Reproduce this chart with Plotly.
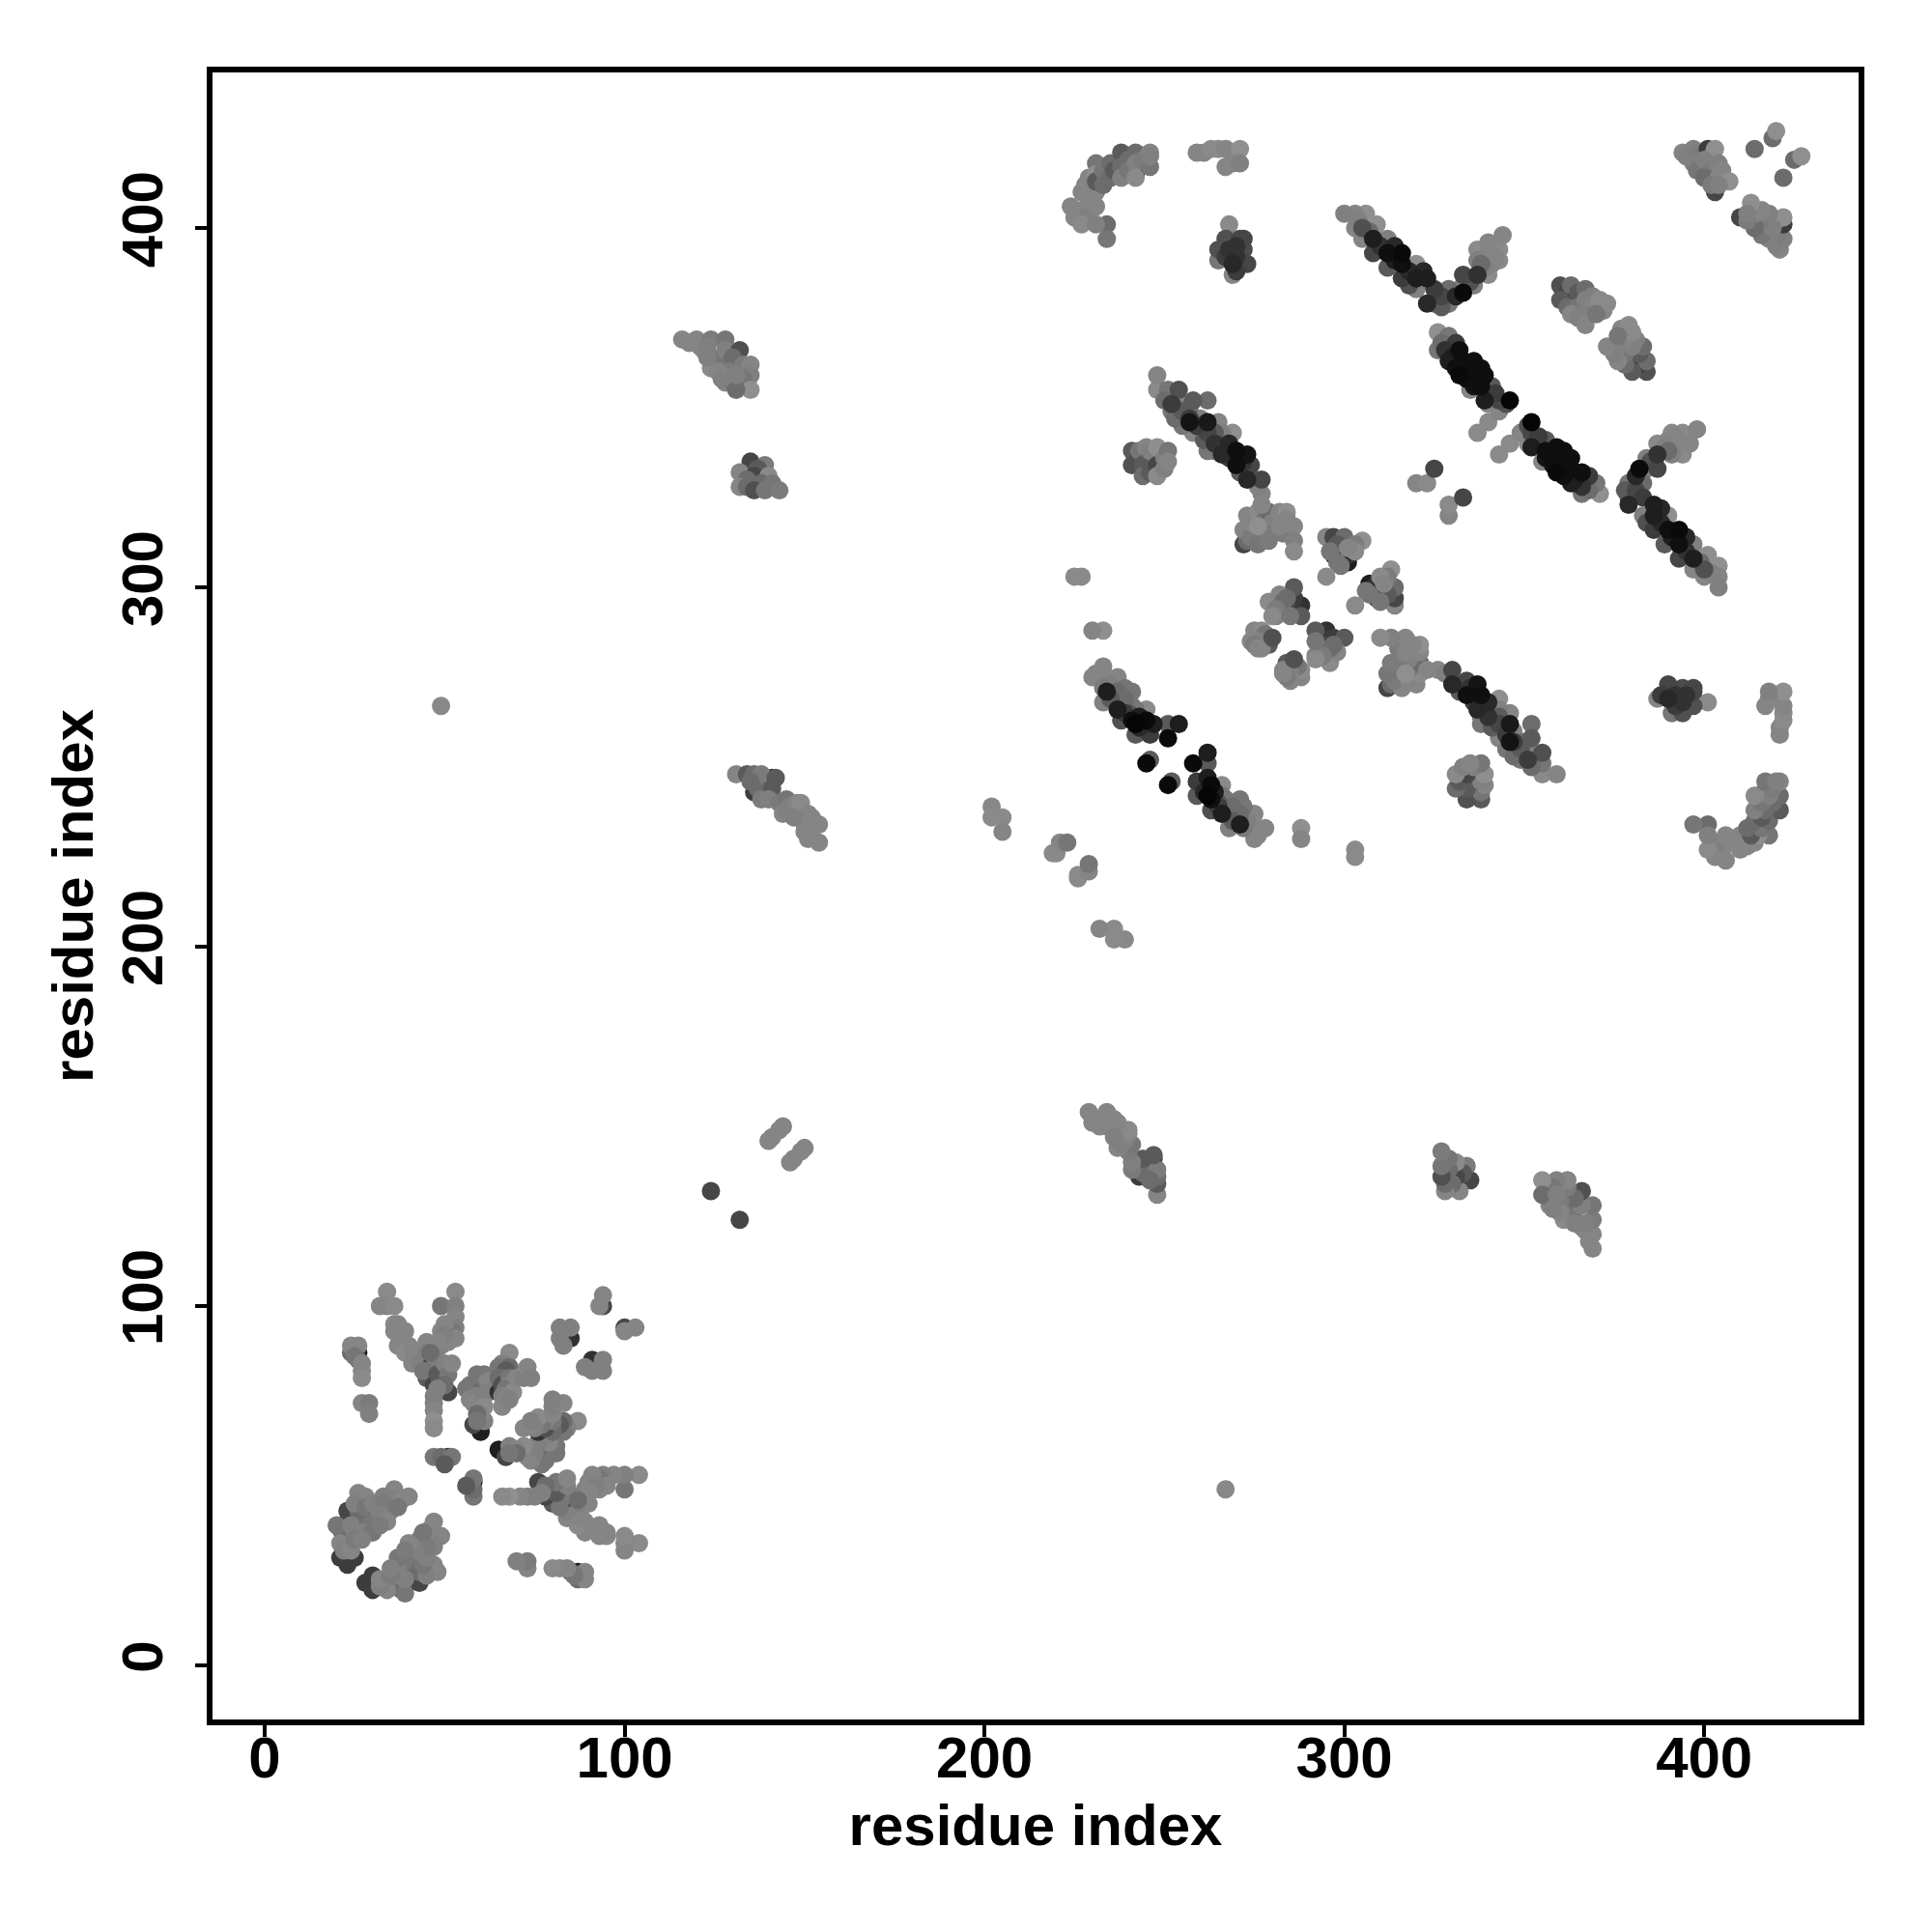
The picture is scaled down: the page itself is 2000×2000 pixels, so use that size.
import plotly.graph_objects as go

# contacts as (residue i, residue j, grey level); the map is symmetric, so each is drawn twice
helix_bundle_a = [(26,87,30),(24,87,100),(24,89,125),(26,89,125),(26,85,100),(25,86,110),(27,84,125),(27,82,125),(27,80,130),
    (27,73,125),(29,73,115),(29,70,120),(34,104,130),(32,100,125),(34,100,125),(36,100,130),(36,95,130),(37,95,125),(36,93,125),
    (39,93,125),(38,91,125),(37,89,125),(40,89,125),(39,87,130),(41,88,125),(43,87,125),(41,84,125),(43,84,120),(45,90,125),(45,87,120),
    (47,82,60),(46,83,60),(45,80,90),(44,82,110),(48,84,110),(47,78,70),(51,76,70),(49,79,60),(48,81,90),(47,86,115),(49,89,120),(50,84,120),(51,81,110),
    (50,78,100),(48,77,120),(52,84,125),(47,75,120),(47,73,120),(47,71,125),(47,68,135),(47,66,130),(49,100,110),(53,104,130),(53,100,120),(53,97,125),
    (53,94,120),(52,93,110),(53,91,125),(51,90,125),(49,93,125),(50,95,125),(50,92,120),(48,90,125),(46,87,100)]
helix_bundle_b = [(58,78,70),(60,65,30),(58,67,70),(59,81,110),(61,81,110),(56,77,110),(57,78,110),(61,78,110),(60,79,110),(60,76,100),
    (57,74,125),(59,75,120),(58,73,125),(61,75,120),(62,79,125),(62,76,120),(61,68,120),(61,72,130),(60,70,125),(59,70,100),(59,68,110),(65,76,50),
    (68,87,130),(66,84,120),(65,83,110),(68,83,100),(67,82,90),(66,80,100),(65,80,100),(66,78,80),(68,80,110),(68,78,120),(67,77,110),(69,76,130),(66,75,120),
    (66,72,125),(67,74,125),(68,74,120),(70,80,125),(72,80,120),(73,83,125),(74,80,120),(51,58,35),(47,58,110),(49,58,100),(52,58,110),(50,56,90)]
helix_bundle_c = [(23,40,30),(23,30,35),(21,30,60),(23,28,60),(25,30,60),(26,40,60),(24,42,60),(23,43,70),(22,38,80),
    (29,42,90),(26,43,100),(28,40,100),(21,38,100),(22,36,100),(26,48,125),(36,49,125),(40,47,125),(27,47,125),(28,47,125),(33,47,120),(36,46,120),(38,46,125),
    (25,45,120),(28,44,110),(31,43,110),(30,45,120),(33,45,115),(35,43,115),(37,44,110),(20,39,110),(32,42,120),(33,41,120),(34,40,125),(24,39,120),(29,39,110),
    (25,37,120),(27,37,120),(30,37,110),(32,39,115),(21,34,125),(22,32,120),(24,32,125),(25,35,115),(27,35,120)]
helix_bundle_d = [(94,100,70),(93,100,125),(94,103,125),(85,91,50),(82,94,120),(85,94,120),(82,91,120),(83,89,120)]
sparse_points = [(49,267,128),(124,132,70),(140,146,125),(141,147,125),(143,149,125),(144,150,125)]
block_131_248 = [(141,247,50),(136,243,60),(139,244,70),(137,244,100),(131,248,125),(134,248,90),(136,248,100),(138,248,115),(135,246,100),
    (141,244,90),(142,247,90),(138,241,115),(140,241,120),(143,240,115),(145,241,110),(144,237,125),(146,239,120),(145,238,120),(148,238,125),(148,240,125),
    (149,240,130),(151,237,125),(152,236,125),(150,234,125),(150,232,125),(152,232,125),(151,230,125),(154,229,125),(154,234,125),(147,236,120)]
block_116_369 = [(128,361,40),(131,362,40),(116,369,125),(118,368,125),(120,369,125),(121,367,125),(124,369,115),(122,366,125),(123,367,120),(125,362,125),
    (124,361,130),(124,364,120),(127,364,110),(128,369,110),(128,366,120),(132,366,80),(130,364,100),(133,362,115),(135,362,125),(129,360,115),(135,359,120),(133,358,110),
    (126,360,125),(128,357,125),(130,357,110),(135,355,135),(131,355,100),(127,358,120),(131,359,120),(123,364,120)]
block_131_335 = [(135,335,70),(139,334,115),(137,333,90),(132,332,125),(136,331,70),(134,330,100),(140,331,130),(132,328,125),(134,328,100),(138,329,100),(141,329,110),(136,327,80),
    (139,327,110),(143,327,115)]
block_224_421 = [(242,415,30),(224,406,125),(227,405,125),(225,403,125),(229,404,120),(227,401,130),(231,406,125),(234,401,100),(234,397,110),
    (231,401,120),(228,412,125),(229,414,125),(229,408,125),(227,410,125),(231,410,125),(231,418,110),(231,415,135),(231,413,90),(233,416,110),(233,412,100),
    (235,418,100),(235,414,100),(236,416,90),(238,421,90),(238,417,100),(238,414,120),(240,419,100),(240,416,110),(242,421,100),(242,418,120),
    (242,414,130),(244,419,115),(246,421,125),(246,417,110),(246,420,120)]
block_259_422 = [(259,421,125),(261,421,125),(263,422,130),(265,422,130),(267,422,125),(269,421,125),(271,422,135),(267,417,125),(269,418,125),(271,418,120)]
block_265_401 = [(269,390,40),(268,394,50),(270,392,50),(270,395,50),(267,392,60),(270,388,60),(268,401,130),(267,397,80),(272,397,70),(271,397,70),(265,394,80),(272,394,75),
    (265,391,110),(273,390,70),(269,387,125)]
strip_248_359 = [(248,359,125),(248,355,130),(251,355,110),(254,355,80),(252,351,60),(250,352,100),(258,352,90),(262,352,100),
    (254,351,125),(252,349,110),(255,349,90),(257,350,100),(255,345,110),(259,345,60),(257,346,20),(257,347,60),(253,347,100),(262,346,25),(265,346,125),(260,347,120),
    (258,343,125),(262,343,70),(261,341,90),(264,343,90),(264,340,50),(264,338,110),(266,343,120),(269,343,135),(262,338,110),(266,337,40),(268,340,40),(268,336,60),(270,338,15),
    (272,335,50),(273,337,20),(270,334,15),(274,334,70),(271,332,90),(273,330,40),(274,330,120),(277,330,70),(276,328,120),(277,326,125),(277,323,125)]
block_241_339 = [(245,337,25),(241,338,90),(241,334,80),(243,336,80),(243,338,110),(245,339,125),(244,334,90),(244,331,100),(246,336,90),(246,332,90),(246,338,120),(248,339,135),
    (248,334,70),(248,331,130),(250,336,120),(250,333,120),(251,338,110),(251,335,125)]
block_272_321 = [(272,312,70),(275,317,30),(278,316,40),(273,313,100),(273,320,125),(272,316,125),(274,314,115),(277,314,110),(274,318,125),(276,312,110),(276,321,130),
    (278,319,110),(279,321,100),(280,318,120),(280,315,115),(283,315,115),(282,321,125),(284,321,135),(284,319,125),(276,317,135),(279,313,115),(282,317,125),(286,317,125),
    (286,313,120),(286,310,130)]
block_295_314 = [(300,310,20),(301,307,30),(297,309,40),(301,309,50),(295,314,125),(297,314,70),(300,314,100),(305,313,135),(298,312,90),(298,307,110),(303,312,115),
    (296,310,110),(303,310,130),(295,303,130),(299,306,110),(301,311,125)]
block_279_300 = [(283,294,30),(288,295,50),(286,297,60),(286,293,60),(284,294,70),(288,292,90),(286,300,90),(279,296,130),(282,298,125),(284,297,100),(283,296,100),
    (281,294,115),(281,292,120),(280,292,130),(285,292,110)]
block_275_288 = [(278,284,50),(279,284,90),(275,288,125),(277,288,130),(278,287,110),(276,285,120),(274,285,125),(275,284,115),(277,283,125),(280,286,80),(276,283,125)]
arc_230_278 = [(234,271,30),(233,278,125),(231,276,125),(230,275,125),(233,275,125),(237,275,125),(233,272,115),(235,273,120),(233,268,120),(237,271,100),(239,272,110),(235,269,90),
    (239,269,100),(237,266,30),(237,268,130),(241,271,110),(239,265,60),(240,265,90),(241,263,15),(243,264,30),(243,261,40),(238,263,80),(241,267,110),(245,263,10),(247,262,30),(242,262,5),
    (245,266,130),(242,266,110),(238,267,130),(242,259,90),(246,259,60),(254,262,30),(251,262,90),(251,258,10),
    (245,251,10),(246,252,90)]
small_far_points = [(288,233,135),(288,230,125),(303,227,130),(303,225,130)]
small_loop_points = [(202,239,128),(202,236,130),(205,236,130),(205,232,125),(219,226,130),(220,226,130),
    (221,229,125),(223,229,110)]
strip_300_404 = [(300,404,120),(303,404,125),(306,404,135),(304,402,120),(303,400,125),(305,400,80),(309,401,135),(307,399,100),(305,397,125),
    (308,397,30),(312,397,120),(310,395,50),(308,393,70),(314,395,40),(312,393,15),(316,393,10),(312,389,90),(314,391,30),(316,390,15),(320,390,135),(318,388,40),(322,388,40),
    (316,386,60),(320,386,30),(323,386,30),(318,384,80),(320,383,120),(325,383,60),(329,383,100),(327,381,70),(331,381,40),(323,379,40),(325,379,90),(327,378,90),
    (329,379,110),(329,379,125),(333,382,10),(333,387,70),(333,384,120),(335,385,80),(337,387,50),(336,384,120),(339,389,120),(338,390,100),(341,390,125),
    (337,394,130),(337,391,120),(340,387,130),(342,392,125),(343,391,130),(343,394,130),(340,396,125),(344,398,125),(340,393,125)]
block_360_384 = [(364,380,15),(360,384,80),(362,382,70),(363,384,100),(365,382,90),(367,383,100),(360,380,90),(362,378,100),(365,378,110),(367,380,120),(369,381,120),(369,378,125),(363,376,125),
    (365,375,120),(367,376,120),(371,380,130),(372,377,125),(373,379,130),(367,373,125),(370,376,110)]
strip_326_371 = [(326,371,135),(329,370,110),(327,368,100),(326,366,110),(328,366,50),(331,368,60),(332,366,15),(330,364,30),(329,363,30),(333,363,15),(331,361,15),(334,361,15),
    (336,363,15),(338,361,15),(332,359,10),(334,358,15),(336,359,15),(339,359,15),(341,356,90),(335,355,125),(336,356,20),(338,356,15),(337,357,20),(342,354,60),(339,352,30),
    (345,351,80),(343,352,70),(346,352,5),(343,349,125),(340,351,130),(340,346,130),(337,343,130)]
small_320_333 = [(320,329,125),(323,329,130),(325,333,70)]
triangle_394_427 = [(403,410,70),(394,421,125),(395,420,120),(397,422,120),(398,420,115),(401,422,60),(402,420,110),(403,422,135),(397,418,120),(398,416,110),(400,419,120),(402,416,115),
    (404,418,120),(405,416,125),(400,414,100),(404,414,125),(405,414,125),(402,412,115),(407,413,135),(404,412,120),(414,422,100),(419,425,100),(420,427,135)]

layered_blocks = [helix_bundle_a, helix_bundle_b, helix_bundle_c, helix_bundle_d, sparse_points, block_131_248,
    block_116_369, block_131_335, block_224_421, block_259_422, block_241_339,
    block_272_321, block_295_314, block_279_300, block_275_288, small_far_points, small_loop_points,
    block_360_384, small_320_333, triangle_394_427]
dark_blocks = [block_265_401, strip_248_359, arc_230_278, strip_300_404, strip_326_371]

tick_values = [0, 100, 200, 300, 400]
axis_label = "residue index"


def grey(g):
    g = g + 8 if g >= 100 else g
    return f"rgb({g},{g},{g})"


xs, ys, colors = [], [], []
ordered_blocks = layered_blocks + [sorted(b, key=lambda c: -c[2]) for b in dark_blocks]
for block in ordered_blocks:
    for i, j, g in block:
        xs.append(i); ys.append(j); colors.append(grey(g))
    for i, j, g in block:
        xs.append(j); ys.append(i); colors.append(grey(g))

FONT = "Liberation Sans"
axis_common = dict(
    tickmode="array", tickvals=tick_values, ticktext=[str(t) for t in tick_values],
    ticks="outside", ticklen=12, tickwidth=4, tickcolor="black",
    showgrid=False, zeroline=False, showline=True, linecolor="black", linewidth=6, mirror=True,
    tickfont=dict(family=FONT, size=60, color="black", weight="bold"),
)
title_font = dict(family=FONT, size=60, color="black", weight="bold")
fig = go.Figure(go.Scatter(x=xs, y=ys, mode="markers",
                           marker=dict(size=19, color=colors, line=dict(width=0)),
                           showlegend=False, hoverinfo="skip"))
fig.update_layout(
    width=2000, height=2000, paper_bgcolor="white", plot_bgcolor="white",
    margin=dict(l=212, r=84, t=67, b=228, autoexpand=False),
    xaxis=dict(range=[-14.5, 442.9], ticklabelstandoff=-30, **axis_common,
               title=dict(text=axis_label, standoff=18, font=title_font)),
    yaxis=dict(range=[-15.05, 443.3], tickangle=-90, ticklabelstandoff=10, **axis_common,
               title=dict(text=axis_label, standoff=0, font=title_font)),
)
fig.write_html("out.html")
